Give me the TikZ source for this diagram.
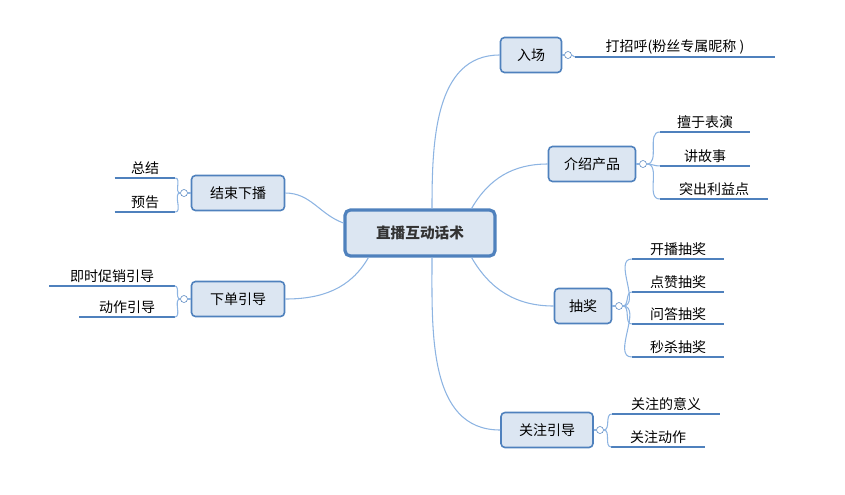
\documentclass[tikz,border=0pt]{standalone}
\usepackage{fontspec}
\setmainfont{Noto Sans CJK SC}
\usetikzlibrary{positioning}
\definecolor{boxfill}{RGB}{220,230,242}
\definecolor{boxline}{RGB}{79,129,189}
\definecolor{branch}{RGB}{141,180,226}

\begin{document}
\begin{tikzpicture}[x=0.75pt,y=-0.75pt,
    font=\fontsize{10.5}{12}\selectfont,
    topic/.style={draw=boxline,line width=1.2pt,fill=boxfill,rounded corners=3pt,
        minimum width=#1*0.75pt,minimum height=35*0.75pt,inner sep=0pt},
    root/.style={draw=boxline,line width=2.4pt,fill=boxfill,rounded corners=4pt,
        minimum width=150*0.75pt,minimum height=46*0.75pt,font=\fontsize{11}{13}\selectfont\bfseries,text=black!80},
    knob/.style={draw=boxline,fill=white,circle,inner sep=0pt,minimum size=7*0.75pt},
    leaf/.style={minimum width=#1*0.75pt,inner sep=2pt,anchor=south},
    uline/.style={draw=boxline,line width=1.5pt},
    link/.style={draw=branch,line width=0.8pt}]
  \useasboundingbox (0,0) rectangle (845,494);

  % central topic
  \node[root] (center) at (420,233) {直播互动话术};

  % main topics
  \node[topic=61] (enter) at (531,55) {入场};
  \node[topic=87] (intro) at (592,164) {介绍产品};
  \node[topic=57] (lottery) at (583,306) {抽奖};
  \node[topic=92] (follow) at (547,430) {关注引导};
  \node[topic=93] (ending) at (238,193) {结束下播};
  \node[topic=93] (order) at (238,299) {下单引导};

  % knobs
  \node[knob] (kenter) at (568,55) {};
  \node[knob] (kintro) at (643,164) {};
  \node[knob] (klottery) at (619,306) {};
  \node[knob] (kfollow) at (600,430) {};
  \node[knob] (kending) at (184,193) {};
  \node[knob] (korder) at (184,299) {};

  % leaves
  \node[leaf=200] (greet) at (675,57) {打招呼(粉丝专属昵称 )};
  \node[leaf=90] (act) at (705,132) {擅于表演};
  \node[leaf=90] (story) at (705,166) {讲故事};
  \node[leaf=108] (benefit) at (714,199) {突出利益点};
  \node[leaf=92] (l1) at (678,259) {开播抽奖};
  \node[leaf=92] (l2) at (678,292) {点赞抽奖};
  \node[leaf=92] (l3) at (678,324) {问答抽奖};
  \node[leaf=92] (l4) at (678,357) {秒杀抽奖};
  \node[leaf=108] (meaning) at (666,414) {关注的意义};
  \node[leaf=93] (faction) at (658,447) {关注动作};
  \node[leaf=60] (sum) at (145,178) {总结};
  \node[leaf=60] (notice) at (145,212) {预告};
  \node[leaf=125] (promo) at (112,286) {即时促销引导};
  \node[leaf=95] (oaction) at (127,317) {动作引导};

  \foreach \n in {greet,act,story,benefit,l1,l2,l3,l4,meaning,faction,sum,notice,promo,oaction}
    \draw[uline] (\n.south west) -- (\n.south east);

  % branches from center
  \draw[link] (center.north) ++(12,0) to[out=90,in=180] (enter.west);
  \draw[link] (center.north east) ++(-25,0) to[out=60,in=180] (intro.west);
  \draw[link] (center.south east) ++(-25,0) to[out=-60,in=180] (lottery.west);
  \draw[link] (center.south) ++(12,0) to[out=-90,in=180] (follow.west);
  \draw[link] (center.west) ++(0,-10) to[out=160,in=0] (ending.east);
  \draw[link] (center.south west) ++(25,0) to[out=-120,in=0] (order.east);

  % topic to knob
  \foreach \t/\k in {enter/kenter,intro/kintro,lottery/klottery,follow/kfollow}
    \draw[link] (\t.east) -- (\k.west);
  \foreach \t/\k in {ending/kending,order/korder}
    \draw[link] (\t.west) -- (\k.east);

  % knob to leaves
  \draw[link] (kenter.east) to[out=0,in=180] (greet.south west);
  \foreach \n in {act,story,benefit}
    \draw[link] (kintro.east) to[out=0,in=180] (\n.south west);
  \foreach \n in {l1,l2,l3,l4}
    \draw[link] (klottery.east) to[out=0,in=180] (\n.south west);
  \foreach \n in {meaning,faction}
    \draw[link] (kfollow.east) to[out=0,in=180] (\n.south west);
  \foreach \n in {sum,notice}
    \draw[link] (kending.west) to[out=180,in=0] (\n.south east);
  \foreach \n in {promo,oaction}
    \draw[link] (korder.west) to[out=180,in=0] (\n.south east);
\end{tikzpicture}
\end{document}
